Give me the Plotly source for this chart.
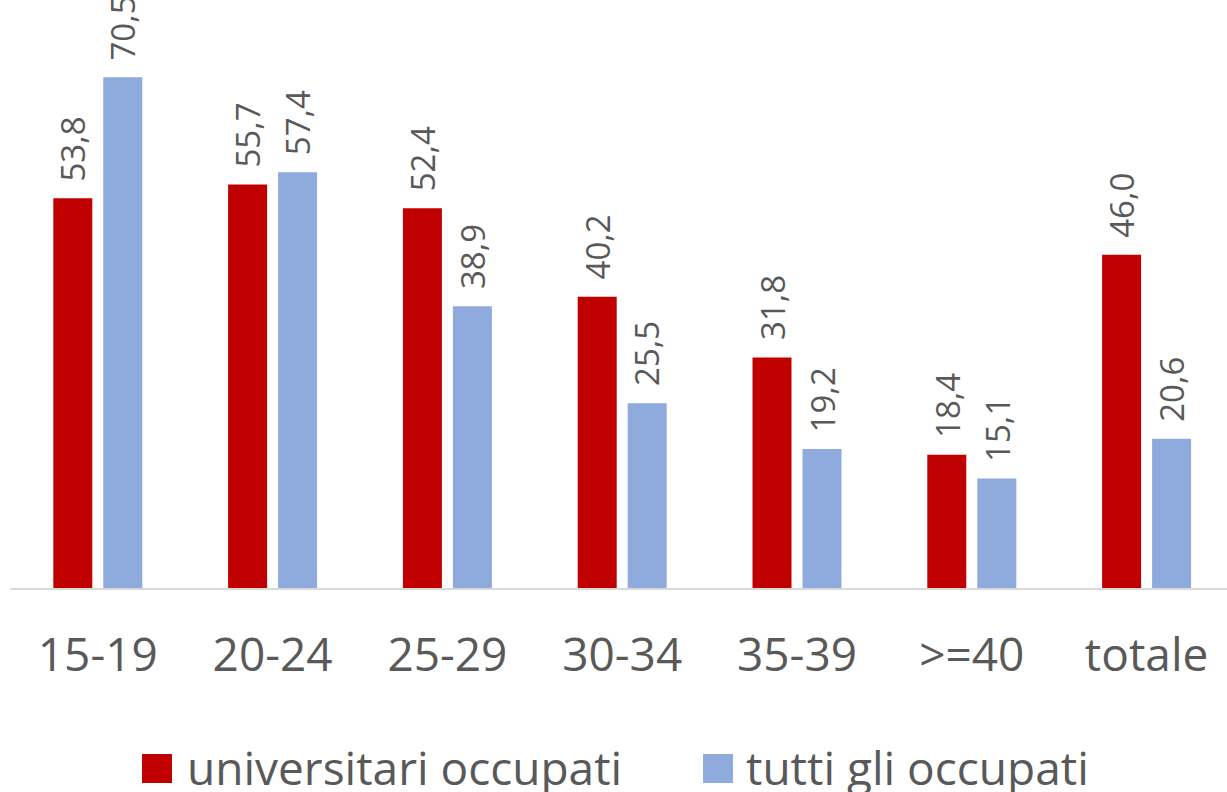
"""
Universitari occupati vs tutti gli occupati, per classe d'età
"""

import plotly.graph_objects as go

# ------------------------------------------------------------------ #
#  Data                                                              #
# ------------------------------------------------------------------ #
categories = ["15-19", "20-24", "25-29", "30-34", "35-39", ">=40", "totale"]
universitari = [53.8, 55.7, 52.4, 40.2, 31.8, 18.4, 46.0]
tutti = [70.5, 57.4, 38.9, 25.5, 19.2, 15.1, 20.6]
series_names = ["universitari occupati", "tutti gli occupati"]

RED = "#C00000"
BLUE = "#8FAADC"
TEXT = "#595959"
FONT = "Open Sans"

W, H = 1227, 792
L, B = 10, 204          # plot area: x 10..1227, y 0..588
PW, PH = W - L, H - B


def fmt(v):
    return f"{v:.1f}".replace(".", ",")


def px(x):   # pixel -> paper x
    return (x - L) / PW


def py(y):   # pixel -> paper y
    return (PH - y) / PH


fig = go.Figure()

for name, vals, col in [(series_names[0], universitari, RED),
                        (series_names[1], tutti, BLUE)]:
    fig.add_trace(
        go.Bar(
            x=categories,
            y=vals,
            name=name,
            marker=dict(color=col, line=dict(width=0)),
            showlegend=False,
        )
    )

# ------------------------------------------------------------------ #
#  Value labels (rotated, above bars)                                #
# ------------------------------------------------------------------ #
annotations = []
for i, cat in enumerate(categories):
    for vals, off in [(universitari, -0.143), (tutti, 0.143)]:
        annotations.append(
            dict(
                x=i + off, y=vals[i], xref="x", yref="y",
                text=fmt(vals[i]), textangle=-90,
                showarrow=False, xanchor="center", yanchor="bottom",
                yshift=15,
                font=dict(family=FONT, size=33, color=TEXT),
            )
        )

# ------------------------------------------------------------------ #
#  Manual legend (big square swatches)                               #
# ------------------------------------------------------------------ #
shapes = []
legend_items = [(series_names[0], RED, 142, 185), (series_names[1], BLUE, 703, 744)]
for name, col, sx, tx in legend_items:
    shapes.append(
        dict(type="rect", xref="paper", yref="paper",
             x0=px(sx), x1=px(sx + 30), y0=py(783), y1=py(754),
             fillcolor=col, line=dict(width=0))
    )
    annotations.append(
        dict(x=px(tx), y=py(767), xref="paper", yref="paper",
             text=name, showarrow=False, xanchor="left", yanchor="middle",
             font=dict(family=FONT, size=46, color=TEXT))
    )

fig.update_layout(
    width=W, height=H,
    margin=dict(l=L, r=0, t=0, b=B),
    paper_bgcolor="white", plot_bgcolor="white",
    barmode="group", bargap=0.428, bargroupgap=0.22,
    xaxis=dict(
        type="category",
        range=[-0.5023, 6.460],
        showline=True, linecolor="#D9D9D9", linewidth=2,
        ticks="", showgrid=False,
        tickfont=dict(family=FONT, size=46, color=TEXT),
        ticklabelstandoff=26,
    ),
    yaxis=dict(range=[0, 81.16], visible=False, showgrid=False, zeroline=False),
    annotations=annotations,
    shapes=shapes,
    showlegend=False,
)

fig.write_html(
    "out.html",
    config={"displayModeBar": False},
    post_script="document.body.style.margin='0';",
)
